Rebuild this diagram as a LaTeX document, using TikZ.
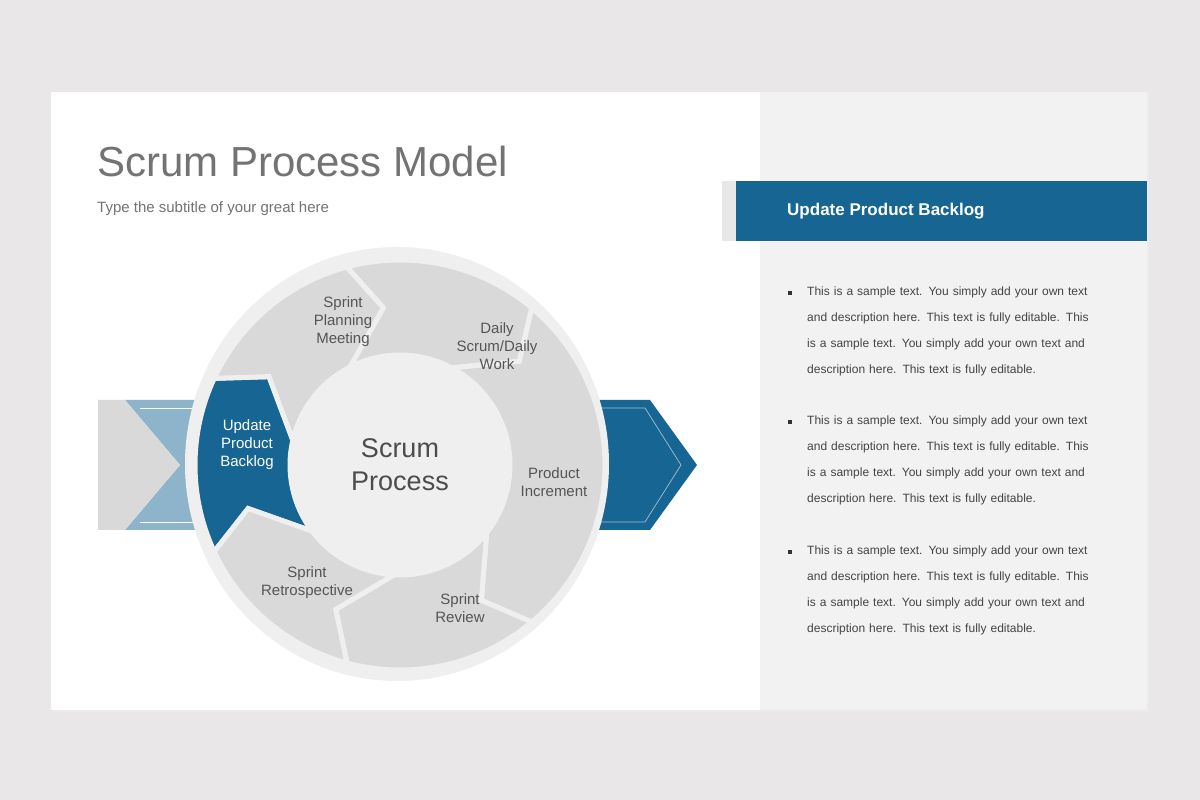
\documentclass[tikz,border=0pt]{standalone}
\usepackage{fontspec}
\setmainfont{Liberation Sans}
\usetikzlibrary{calc}
\definecolor{bgc}{HTML}{E9E7E8}
\definecolor{panel}{HTML}{F2F2F2}
\definecolor{ring}{HTML}{EFEFEF}
\definecolor{seg}{HTML}{D9D9D9}
\definecolor{dblue}{HTML}{166592}
\definecolor{lblue}{HTML}{8DB4CB}
\definecolor{tgray}{HTML}{555555}
\newcommand{\mySeg}[3]{%
  \pgfmathsetmacro{\aa}{#1}\pgfmathsetmacro{\bb}{#2}%
  \pgfmathsetmacro{\ao}{#1+12}\pgfmathsetmacro{\bo}{#2+12}%
  \pgfmathsetmacro{\at}{#1-9}\pgfmathsetmacro{\bt}{#2-9}%
  \draw[#3] ($(C)+(\aa:205)$) arc[start angle=\aa,end angle=\bb,radius=205]
    -- ($(C)+(\bt:158)$) -- ($(C)+(\bo:110)$)
    arc[start angle=\bo,end angle=\ao,radius=110]
    -- ($(C)+(\at:158)$) -- cycle;}
\begin{document}
\begin{tikzpicture}[x=1pt,y=1pt,
  segs/.style={fill=seg,draw=ring,line width=5pt,line join=miter},
  lab/.style={text=tgray,font=\fontsize{15}{18}\selectfont,align=center},
  body/.style={text=tgray!80!black,font=\fontsize{12}{26}\selectfont,align=left,text width=300pt,anchor=north west,inner sep=0pt}]
\useasboundingbox (0,0) rectangle (1200,800);
\fill[bgc] (0,0) rectangle (1200,800);
\fill[black!8] (53,88) rectangle (1149,708);
\fill[white] (51,90) rectangle (1147,708);
\fill[panel] (760,90) rectangle (1147,708);
\node[anchor=base west,text=black!55,font=\fontsize{42}{48}\selectfont,inner sep=0] (title) at (97,623) {Scrum Process Model};
\node[anchor=base west,text=black!55,font=\fontsize{15}{18}\selectfont,inner sep=0] (sub) at (97,587) {Type the subtitle of your great here};
% left arrows
\fill[lblue] (125,400) -- (230,400) -- (230,270) -- (125,270) -- (180,335) -- cycle;
\draw[white,line width=0.7pt] (140,392) -- (230,392) (140,278) -- (230,278);
\fill[seg] (98,400) -- (125,400) -- (180,335) -- (125,270) -- (98,270) -- cycle;
% right arrow
\fill[dblue] (580,400) -- (650,400) -- (697,335) -- (650,270) -- (580,270) -- cycle;
\draw[white!60!dblue,line width=0.7pt] (600,392) -- (645,392) -- (681,335) -- (645,278) -- (600,278);
% ring
\coordinate (C) at (400,335);
\fill[ring] (397,336) ellipse[x radius=212,y radius=217];
\mySeg{205}{155}{segs,fill=dblue}
\mySeg{155}{105}{segs}
\mySeg{105}{50}{segs}
\mySeg{50}{-50}{segs}
\mySeg{-50}{-105}{segs}
\mySeg{-105}{-155}{segs}
\fill[ring] (C) circle[radius=105];
\node[lab,text=tgray!90!black,font=\fontsize{27}{33}\selectfont] (center) at (400,335) {Scrum\\Process};
\node[lab,text=white] (upd) at (247,355) {Update\\Product\\Backlog};
\node[lab] (plan) at (343,478) {Sprint\\Planning\\Meeting};
\node[lab] (daily) at (497,454) {Daily\\Scrum/Daily\\Work};
\node[lab] (inc) at (554,318) {Product\\Increment};
\node[lab] (rev) at (460,192) {Sprint\\Review};
\node[lab] (retro) at (307,217) {Sprint\\Retrospective};
% right panel
\fill[black!9] (722,619) rectangle (736,559);
\fill[dblue] (736,619) rectangle (1147,559);
\node[anchor=west,text=white,font=\bfseries\fontsize{17}{20}\selectfont,inner sep=0] (head) at (787,589) {Update Product Backlog};
\foreach \y/\n in {513/b1,384/b2,254/b3}{
  \node[body] (\n) at (807,\y) {This is a sample text. You simply add your own text and description here. This text is fully editable. This is a sample text. You simply add your own text and description here. This text is fully editable.};
  \fill[black!80] (788,\y-8) rectangle ++(3.5,3.5);
}
\end{tikzpicture}
\end{document}
